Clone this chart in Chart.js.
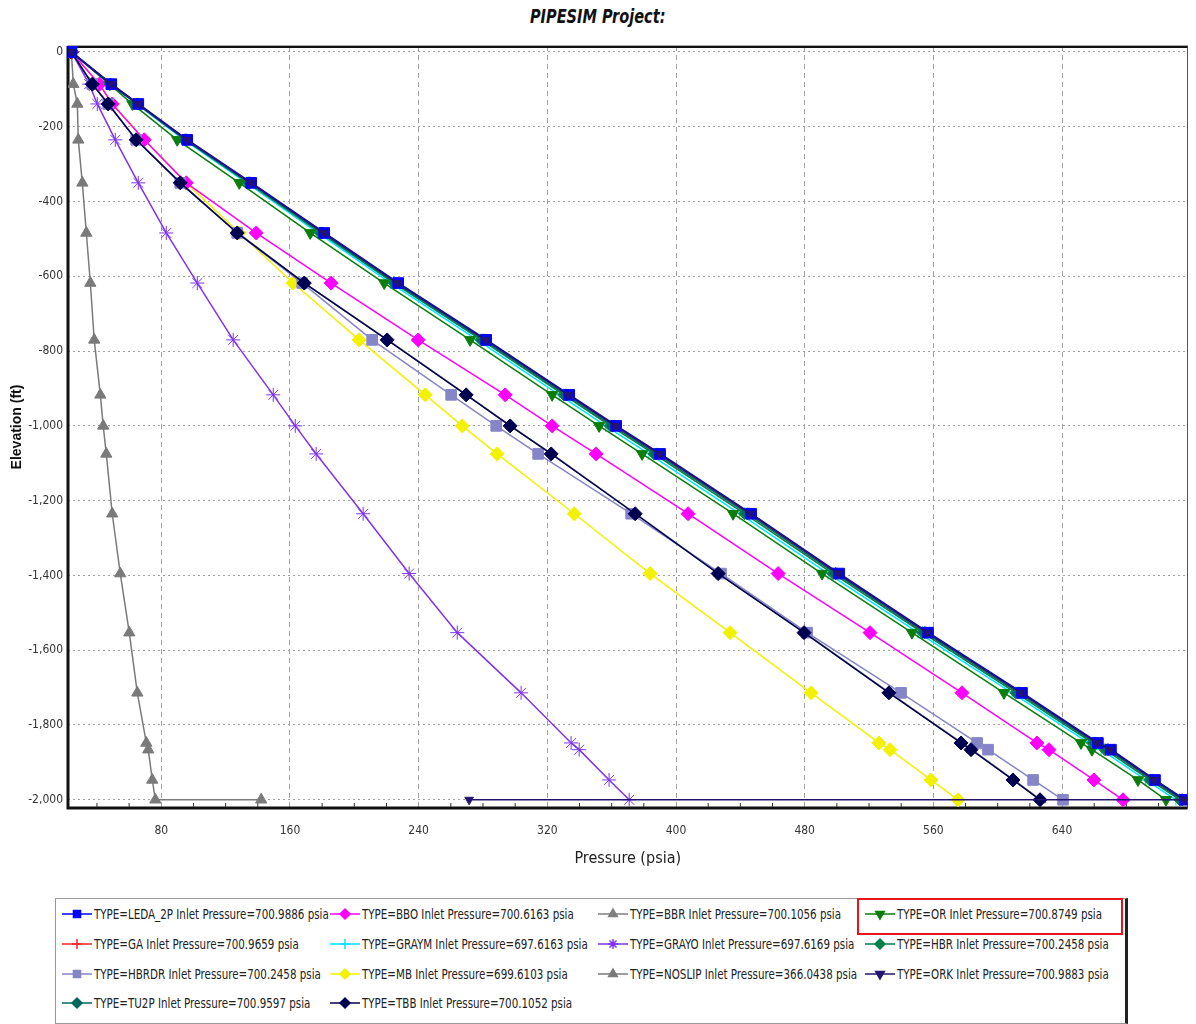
<!DOCTYPE html>
<html>
<head>
<meta charset="utf-8">
<script src="https://cdn.jsdelivr.net/npm/chart.js@4.4.1/dist/chart.umd.min.js"></script>
<style>
body { margin:0; background:#fff; width:1196px; height:1024px; overflow:hidden; position:relative;
  font-family:'Liberation Sans Narrow','DejaVu Sans Condensed',Arial,sans-serif; }
#wrap { position:absolute; left:0; top:0; width:1196px; height:880px; }
#title { position:absolute; top:5px; left:0; width:1196px; text-align:center; font-weight:bold;
  font-style:italic; font-size:19px; color:#111; }
#title span { display:inline-block; transform:scaleX(0.85); }
#legend { position:absolute; left:55px; top:898px; width:1073px; height:126px; border:1px solid #999;
  border-right:3px solid #222; box-sizing:border-box; }
.item { position:absolute; height:16px; display:flex; align-items:center; font-size:13.5px;
  white-space:nowrap; color:#222; }
.item canvas { margin-right:2px; }
.item span { display:inline-block; transform:scaleX(0.85); transform-origin:left center; }
#mark { position:absolute; left:857px; top:898px; width:266px; height:37px; border:2px solid #e8141b;
  box-sizing:border-box; }
</style>
</head>
<body>
<div id="title"><span>PIPESIM Project:</span></div>
<div id="wrap"><canvas id="profile"></canvas></div>
<div id="legend"></div>
<div id="mark"></div>
<script>
// elevation nodes (ft) shared by the wellbore profiles
const elevNodes = [0, -86, -139, -235, -350, -484, -618, -770, -917, -1000, -1075, -1235, -1395, -1553, -1714, -1848, -1866, -1947, -2000];
// profiles that carry on along the flowline at -2000 ft
const elevFlow = [0, -86, -139, -235, -350, -484, -618, -770, -917, -1000, -1075, -1235, -1395, -1553, -1714, -1848, -1866, -1947, -2000, -2000];

// pressure (psia) at each node
const ledaP   = [24.1, 48.9, 65.7, 96.1, 135.9, 181.3, 227.3, 282.0, 333.6, 362.8, 390.1, 446.7, 501.4, 556.7, 615.1, 662.3, 670.4, 697.8, 716.4];
const gaP     = [24.1, 48.6, 65.3, 95.6, 135.2, 180.5, 226.4, 281.0, 332.5, 361.7, 389.0, 445.5, 500.0, 555.4, 613.6, 660.8, 668.9, 696.3, 714.9];
const hbrdrP  = [24.1, 37.1, 47.0, 64.4, 91.8, 127.2, 167.6, 211.1, 260.2, 288.2, 314.3, 372.1, 428.0, 481.5, 539.9, 587.2, 594.0, 622.0, 640.6];
const tu2pP   = [24.1, 48.5, 65.2, 95.4, 134.9, 180.0, 225.8, 280.2, 331.6, 360.6, 387.8, 444.4, 499.2, 554.6, 613.0, 660.3, 668.3, 696.0, 714.6];
const bboP    = [24.1, 41.5, 49.5, 69.4, 95.5, 139.0, 185.6, 239.7, 293.8, 323.0, 350.3, 407.5, 463.5, 520.6, 577.8, 624.4, 631.9, 659.8, 677.9];
const graymP  = [24.1, 48.0, 64.6, 94.2, 133.0, 177.4, 222.6, 276.4, 327.4, 356.3, 383.2, 439.5, 494.6, 550.5, 608.9, 656.5, 664.3, 692.0, 710.8];
const mbP     = [24.1, 41.5, 49.5, 69.4, 95.5, 128.5, 162.0, 203.0, 244.1, 267.1, 288.8, 336.7, 383.9, 433.6, 484.0, 526.2, 533.1, 558.5, 575.3];
const tbbP    = [24.1, 37.1, 47.0, 64.4, 91.8, 127.2, 168.9, 220.4, 269.5, 296.9, 322.4, 374.6, 426.2, 479.6, 532.4, 577.2, 583.4, 609.5, 626.3];
const bbrP    = [24.1, 37.3, 47.2, 64.6, 92.0, 127.5, 169.2, 220.8, 269.9, 297.3, 322.8, 375.0, 426.6, 480.1, 532.9, 577.7, 583.9, 610.0, 626.8];
const grayoP  = [24.1, 35.2, 40.2, 51.4, 65.7, 83.1, 102.4, 124.7, 149.6, 163.3, 176.3, 205.5, 234.1, 264.0, 303.7, 334.8, 339.8, 358.4, 370.9];
const noslipP = [24.1, 25.3, 27.8, 28.4, 30.9, 33.4, 35.9, 38.3, 42.1, 43.9, 45.8, 49.5, 54.5, 60.1, 65.1, 70.7, 71.9, 74.4, 76.3, 142.1];
const orP     = [24.1, 47.7, 62.0, 89.9, 128.5, 172.6, 218.6, 272.0, 323.0, 352.2, 378.9, 435.5, 490.8, 546.7, 603.9, 651.8, 658.6, 687.2, 704.6];
const hbrP    = [24.1, 48.2, 64.9, 94.8, 134.0, 178.9, 224.6, 278.9, 330.2, 359.2, 386.3, 442.6, 497.6, 553.2, 611.3, 658.9, 666.7, 694.5, 713.2];
const orkP    = [24.1, 48.8, 65.5, 95.9, 135.6, 181.0, 227.0, 281.6, 333.2, 362.4, 389.6, 446.2, 500.9, 556.2, 614.6, 661.8, 669.9, 697.3, 716.0, 271.4];

const xTicks = [80, 160, 240, 320, 400, 480, 560, 640];
const yTicks = [0, -200, -400, -600, -800, -1000, -1200, -1400, -1600, -1800, -2000];

// series, top-most first (Chart.js draws index 0 last)
const series = [
  { label: 'TYPE=ORK Inlet Pressure=700.9883 psia', p: orkP, e: elevFlow, color: '#241470', style: 'triangle', rot: 180, r: 5, w: 1.5 },
  { label: 'TYPE=LEDA_2P Inlet Pressure=700.9886 psia', p: ledaP, e: elevNodes, color: '#0000ff', style: 'rect', r: 7.5, w: 2 },
  { label: 'TYPE=TU2P Inlet Pressure=700.9597 psia', p: tu2pP, e: elevNodes, color: '#00695c', style: 'rectRot', r: 6, w: 1.5 },
  { label: 'TYPE=HBR Inlet Pressure=700.2458 psia', p: hbrP, e: elevNodes, color: '#00804a', style: 'rectRot', r: 6, w: 1.5 },
  { label: 'TYPE=GA Inlet Pressure=700.9659 psia', p: gaP, e: elevNodes, color: '#ff2020', style: 'cross', r: 6, w: 1.5 },
  { label: 'TYPE=OR Inlet Pressure=700.8749 psia', p: orP, e: elevNodes, color: '#0a7d0a', style: 'triangle', rot: 180, r: 6.5, w: 1.5 },
  { label: 'TYPE=GRAYM Inlet Pressure=697.6163 psia', p: graymP, e: elevNodes, color: '#00e5ff', style: 'cross', r: 6, w: 1.5 },
  { label: 'TYPE=TBB Inlet Pressure=700.1052 psia', p: tbbP, e: elevNodes, color: '#000050', style: 'rectRot', r: 7, w: 1.5 },
  { label: 'TYPE=HBRDR Inlet Pressure=700.2458 psia', p: hbrdrP, e: elevNodes, color: '#8585c8', style: 'rect', r: 7.5, w: 1.5 },
  { label: 'TYPE=BBO Inlet Pressure=700.6163 psia', p: bboP, e: elevNodes, color: '#ff00ff', style: 'rectRot', r: 7, w: 1.5 },
  { label: 'TYPE=BBR Inlet Pressure=700.1056 psia', p: bbrP, e: elevNodes, color: '#808080', style: 'triangle', r: 6, w: 1.5 },
  { label: 'TYPE=MB Inlet Pressure=699.6103 psia', p: mbP, e: elevNodes, color: '#f2f200', style: 'rectRot', r: 7, w: 1.5 },
  { label: 'TYPE=GRAYO Inlet Pressure=697.6169 psia', p: grayoP, e: elevNodes, color: '#8033ee', style: 'star', r: 7, w: 1.5 },
  { label: 'TYPE=NOSLIP Inlet Pressure=366.0438 psia', p: noslipP, e: elevFlow, color: '#7a7a7a', style: 'triangle', r: 6.5, w: 1.5 }
];

// legend grid as laid out in the reference (row by row)
const legendOrder = [
  'LEDA_2P', 'BBO', 'BBR', 'OR',
  'GA', 'GRAYM', 'GRAYO', 'HBR',
  'HBRDR', 'MB', 'NOSLIP', 'ORK',
  'TU2P', 'TBB'
];
const legendCols = [62, 330, 598, 865];
const legendRows = [914, 944, 974, 1003];

const frame = {
  id: 'frame',
  beforeDatasetsDraw(chart) {
    const { ctx, chartArea: a, scales } = chart;
    ctx.save();
    ctx.strokeStyle = '#555';
    ctx.lineWidth = 1;
    ctx.strokeRect(a.left, a.top, a.right - a.left, a.bottom - a.top);
    ctx.strokeStyle = '#111';
    ctx.lineWidth = 3;
    ctx.beginPath();
    ctx.moveTo(a.left, a.top);
    ctx.lineTo(a.left, a.bottom);
    ctx.lineTo(a.right, a.bottom);
    ctx.stroke();
    ctx.lineWidth = 2;
    ctx.beginPath();
    ctx.moveTo(a.left, a.top + 1);
    ctx.lineTo(a.right, a.top + 1);
    ctx.stroke();
    // minor ticks along the pressure axis
    ctx.lineWidth = 1;
    ctx.strokeStyle = '#333';
    for (let v = 40; v < 720; v += 20) {
      if (v % 80 === 0) continue;
      const px = scales.x.getPixelForValue(v);
      ctx.beginPath();
      ctx.moveTo(px, a.bottom - 1);
      ctx.lineTo(px, a.bottom - 5);
      ctx.stroke();
    }
    ctx.restore();
  }
};

const tickFont = { family: "'Liberation Sans Narrow','DejaVu Sans Condensed',Arial,sans-serif", size: 12 };

const chart = new Chart(document.getElementById('profile'), {
  type: 'scatter',
  data: {
    datasets: series.map(s => ({
      label: s.label,
      data: s.e.map((y, i) => ({ x: s.p[i], y: y })),
      showLine: true,
      tension: 0,
      borderColor: s.color,
      backgroundColor: s.color,
      borderWidth: s.w,
      pointStyle: s.style,
      pointRotation: s.rot || 0,
      pointRadius: s.r,
      pointBorderWidth: 1,
      pointBorderColor: s.color,
      pointBackgroundColor: s.color
    }))
  },
  options: {
    responsive: true,
    maintainAspectRatio: false,
    animation: false,
    layout: { padding: { top: 46, right: 6, left: 0, bottom: 0 } },
    plugins: { legend: { display: false }, tooltip: { enabled: false } },
    scales: {
      x: {
        type: 'linear',
        min: 22,
        max: 718,
        afterBuildTicks: axis => { axis.ticks = xTicks.map(v => ({ value: v })); },
        afterFit: axis => { axis.height = 72; },
        grid: { color: '#a0a0a0', lineWidth: 1, drawTicks: false },
        border: { display: false, dash: [5, 4] },
        ticks: { font: tickFont, color: '#333', padding: 16, maxRotation: 0 },
        title: { display: true, text: 'Pressure (psia)', color: '#222',
          font: { family: "'Liberation Sans Narrow','DejaVu Sans Condensed',Arial,sans-serif", size: 16 },
          padding: { top: 0, bottom: 12 } }
      },
      y: {
        type: 'linear',
        min: -2022,
        max: 16,
        afterBuildTicks: axis => { axis.ticks = yTicks.map(v => ({ value: v })); },
        afterFit: axis => { axis.width = 68; },
        grid: { color: '#a0a0a0', lineWidth: 1, drawTicks: false },
        border: { display: false, dash: [2, 3] },
        ticks: { font: tickFont, color: '#333', padding: 5, callback: v => v.toLocaleString('en-US') },
        title: { display: true, text: 'Elevation (ft)', color: '#111',
          font: { family: "'Liberation Sans',Arial,sans-serif", size: 14, weight: 'bold' },
          padding: { top: 9, bottom: 0 } }
      }
    }
  },
  plugins: [frame]
});

// html legend
const legendBox = document.getElementById('legend');
legendOrder.forEach((key, i) => {
  const s = series.find(d => d.label.startsWith('TYPE=' + key + ' '));
  const item = document.createElement('div');
  item.className = 'item';
  item.style.left = (legendCols[i % 4] - 56) + 'px';
  item.style.top = (legendRows[Math.floor(i / 4)] - 899 - 8) + 'px';
  const c = document.createElement('canvas');
  c.width = 30; c.height = 16;
  const g = c.getContext('2d');
  g.strokeStyle = s.color;
  g.fillStyle = s.color;
  g.lineWidth = 1.5;
  g.beginPath(); g.moveTo(0, 8); g.lineTo(30, 8); g.stroke();
  Chart.helpers.drawPoint(g, { pointStyle: s.style, rotation: s.rot || 0, radius: 5, borderWidth: 1 }, 15, 8);
  item.appendChild(c);
  const t = document.createElement('span');
  t.textContent = s.label;
  item.appendChild(t);
  legendBox.appendChild(item);
});
</script>
</body>
</html>
